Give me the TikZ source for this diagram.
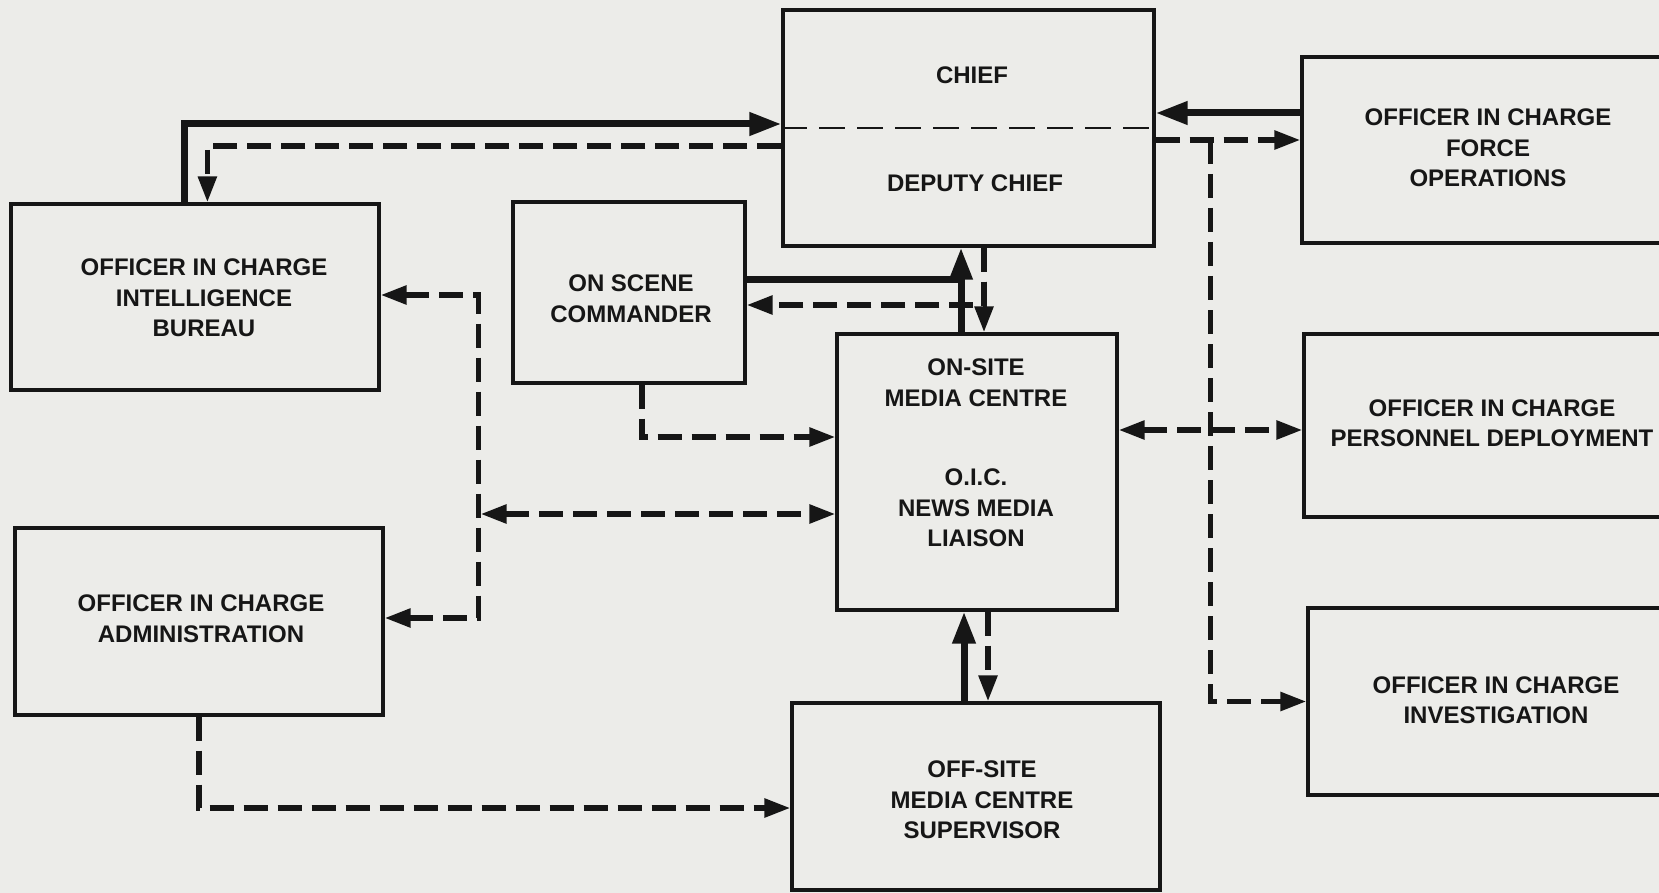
\documentclass[tikz,border=0pt]{standalone}
\usepackage{fontspec}
\setmainfont{Liberation Sans}
\usetikzlibrary{arrows.meta,calc}
\definecolor{bg}{RGB}{236,236,233}
\definecolor{ink}{RGB}{22,22,22}
\tikzset{
 box/.style={draw=ink, line width=3.2pt, rectangle, inner sep=0pt},
 lbl/.style={font=\bfseries\fontsize{24}{30.5}\selectfont, text=ink, align=center, inner sep=0pt},
 thk/.style={draw=ink, line width=7pt, -{Triangle[length=32pt,width=22pt]}},
 thkline/.style={draw=ink, line width=7pt},
 dsh/.style={draw=ink, line width=5.5pt, dash pattern=on 24pt off 10pt, -{Triangle[length=26pt,width=18pt]}},
 dshb/.style={draw=ink, line width=5.5pt, dash pattern=on 24pt off 10pt, {Triangle[length=26pt,width=18pt]}-{Triangle[length=26pt,width=18pt]}},
 divider/.style={draw=ink, line width=2.2pt, dash pattern=on 26pt off 12pt},
}
\begin{document}
\begin{tikzpicture}[x=1pt,y=-1pt]
\useasboundingbox (0,0) rectangle (1659,893);
\clip (0,0) rectangle (1659,893);
\fill[bg] (0,0) rectangle (1659,893);

% boxes
\node[box, minimum width=371pt, minimum height=236pt] (chief) at (968.5,128) {};
\node[box, minimum width=373pt, minimum height=186pt] (force) at (1488.5,150) {};
\node[box, minimum width=368pt, minimum height=186pt] (intel) at (195,297) {};
\node[box, minimum width=232pt, minimum height=181pt] (osc) at (629,292.5) {};
\node[box, minimum width=280pt, minimum height=276pt] (media) at (977,472) {};
\node[box, minimum width=376pt, minimum height=183pt] (pers) at (1492,425.5) {};
\node[box, minimum width=368pt, minimum height=187pt] (admin) at (199,621.5) {};
\node[box, minimum width=376pt, minimum height=187pt] (invest) at (1496,701.5) {};
\node[box, minimum width=368pt, minimum height=187pt] (offsite) at (976,796.5) {};

% labels
\node[lbl] (chiefT) at (972,75) {CHIEF};
\node[lbl] (deputyT) at (975,183) {DEPUTY CHIEF};
\node[lbl] (forceT) at (1488,148) {OFFICER IN CHARGE\\FORCE\\OPERATIONS};
\node[lbl] (intelT) at (204,298) {OFFICER IN CHARGE\\INTELLIGENCE\\BUREAU};
\node[lbl] (oscT) at (631,298.5) {ON SCENE\\COMMANDER};
\node[lbl] (mediaT1) at (976,382.5) {ON-SITE\\MEDIA CENTRE};
\node[lbl] (mediaT2) at (976,508) {O.I.C.\\NEWS MEDIA\\LIAISON};
\node[lbl] (persT) at (1492,423) {OFFICER IN CHARGE\\PERSONNEL DEPLOYMENT};
\node[lbl] (adminT) at (201,618.5) {OFFICER IN CHARGE\\ADMINISTRATION};
\node[lbl] (investT) at (1496,700) {OFFICER IN CHARGE\\INVESTIGATION};
\node[lbl] (offsiteT) at (982,800) {OFF-SITE\\MEDIA CENTRE\\SUPERVISOR};

% chief / deputy divider
\draw[divider] (chief.west) -- (chief.east);

% intelligence <-> chief
\draw[thk] ([xshift=175pt]intel.north west) |- ([yshift=4pt]chief.west);
\draw[dsh] ([yshift=-18pt]chief.west) -| ([xshift=198pt]intel.north west);

% force operations <-> chief
\draw[thk] ([yshift=37pt]force.west) -- ([yshift=15pt]chief.east);
\draw[dsh] ([yshift=-12pt]chief.east) -- ([yshift=10pt]force.west);
\coordinate (jr) at ([xshift=55pt,yshift=-12pt]chief.east);
\draw[dsh] (jr) |- (invest.west);

% media <-> personnel
\draw[dshb] ([yshift=42pt]media.east) -- ([yshift=-4.5pt]pers.west);

% chief - on scene - media
\draw[dsh] ([xshift=15.5pt]chief.south) |- ([yshift=-12.5pt]osc.east);
\draw[dsh] ([xshift=15.5pt]chief.south) -- ([xshift=7pt]media.north);
\draw[thkline] ([yshift=12.5pt]osc.east) -| ([xshift=-16pt]media.north);
\draw[thk] ([xshift=-16pt]media.north) -- ([xshift=-7.5pt]chief.south);

% media <-> offsite
\draw[thk] ([xshift=-12pt]offsite.north) -- ([xshift=-13pt]media.south);
\draw[dsh] ([xshift=11pt]media.south) -- ([xshift=12pt]offsite.north);

% on scene -> media
\draw[dsh] ([xshift=13pt]osc.south) |- ([yshift=35pt]media.west);

% intel / admin bus
\draw[dshb] ([yshift=2pt]intel.east) -| ([xshift=94pt,yshift=3.5pt]admin.east) -- ([yshift=3.5pt]admin.east);
\coordinate (vt) at ([xshift=96pt,yshift=2pt]intel.east);
\coordinate (m1) at ([yshift=-42pt]media.west);
\draw[dshb] ($(vt|-m1)+(4,0)$) -- (m1);

% admin -> offsite
\draw[dsh] (admin.south) |- ([yshift=-11.5pt]offsite.west);
\end{tikzpicture}
\end{document}
